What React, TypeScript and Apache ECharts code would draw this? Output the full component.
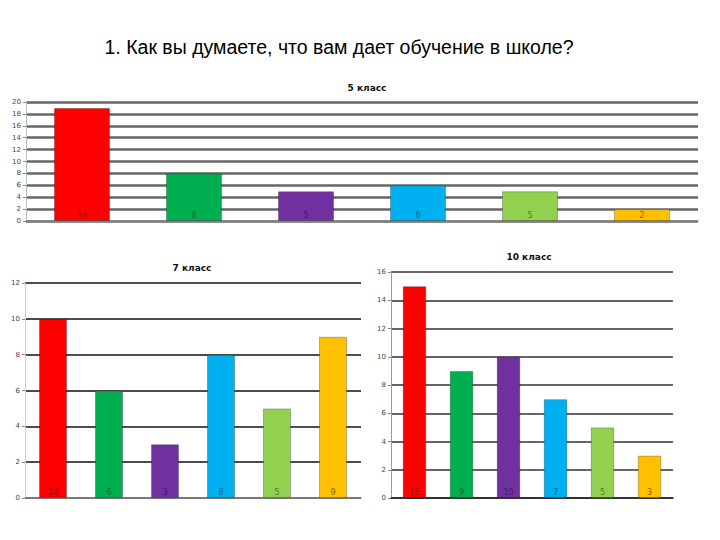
import React, { useEffect, useRef } from "react";
import * as echarts from "echarts";

const categories = ["1", "2", "3", "4", "5", "6"];
const grade5 = [19, 8, 5, 6, 5, 2];
const grade7 = [10, 6, 3, 8, 5, 9];
const grade10 = [15, 9, 10, 7, 5, 3];
const barColors = ["#FF0000", "#00B050", "#7030A0", "#00B0F0", "#92D050", "#FFC000"];
const labelColors = ["#A00000", "#006b2e", "#3e1a5e", "#00668a", "#557a2a", "#8a6400"];
const mainTitle = "1. Как вы думаете, что вам дает обучение в школе?";
const titles = ["5 класс", "7 класс", "10 класс"];

export default function App() {
  const ref = useRef<HTMLDivElement>(null);
  useEffect(() => {
    document.body.style.margin = "0";
    const chart = echarts.init(ref.current!, null, { renderer: "svg" });
    const grids = [
      { left: 26, top: 102, width: 672, height: 119 },
      { left: 25, top: 283, width: 336, height: 215 },
      { left: 391, top: 272, width: 282, height: 226 },
    ];
    const yCfg = [
      { max: 20, interval: 2, split: "#666666", splitW: 2.5, axis: "#bbbbbb" },
      { max: 12, interval: 2, split: "#111111", splitW: 1.5, axis: "#cccccc" },
      { max: 16, interval: 2, split: "#333333", splitW: 1.5, axis: "#999999" },
    ];
    const datasets = [grade5, grade7, grade10];
    const titlePos = [
      { left: 362, top: 78 },
      { left: 187, top: 258 },
      { left: 524, top: 247 },
    ];
    chart.setOption({
      animation: false,
      backgroundColor: "#ffffff",
      title: [
        {
          text: mainTitle,
          left: 334,
          top: 32,
          textAlign: "center",
          textStyle: { fontFamily: "Liberation Sans", fontSize: 19.5, fontWeight: "normal", color: "#000" },
        },
        ...titles.map((t, i) => ({
          text: t,
          left: titlePos[i].left,
          top: titlePos[i].top,
          textAlign: "center",
          textStyle: { fontFamily: "DejaVu Sans", fontSize: 9, fontWeight: "bold", color: "#111" },
        })),
      ],
      grid: grids.map((g) => ({ ...g, containLabel: false })),
      xAxis: grids.map((_, i) => ({
        type: "category",
        gridIndex: i,
        data: categories,
        axisLabel: { show: false },
        axisTick: { show: false },
        axisLine: { lineStyle: { color: i === 2 ? "#222" : "#888", width: 1.5 } },
      })),
      yAxis: yCfg.map((c, i) => ({
        type: "value",
        gridIndex: i,
        min: 0,
        max: c.max,
        interval: c.interval,
        axisLine: { show: true, lineStyle: { color: c.axis } },
        axisTick: { show: true, length: 3, lineStyle: { color: "#888" } },
        axisLabel: { fontSize: 7, color: "#444", margin: 5, fontFamily: "DejaVu Sans" },
        splitLine: { lineStyle: { color: c.split, width: c.splitW } },
      })),
      series: datasets.map((d, i) => ({
        type: "bar",
        xAxisIndex: i,
        yAxisIndex: i,
        barWidth: "50%",
        data: d.map((v, j) => ({
          value: v,
          itemStyle: { color: barColors[j], borderColor: "rgba(0,0,0,0.25)", borderWidth: 1 },
          label: { color: labelColors[j] },
        })),
        label: {
          show: true,
          position: "insideBottom",
          distance: 2,
          fontSize: 8,
          fontFamily: "DejaVu Sans",
        },
      })),
    });
    return () => chart.dispose();
  }, []);
  return <div ref={ref} style={{ width: 720, height: 540 }} />;
}
